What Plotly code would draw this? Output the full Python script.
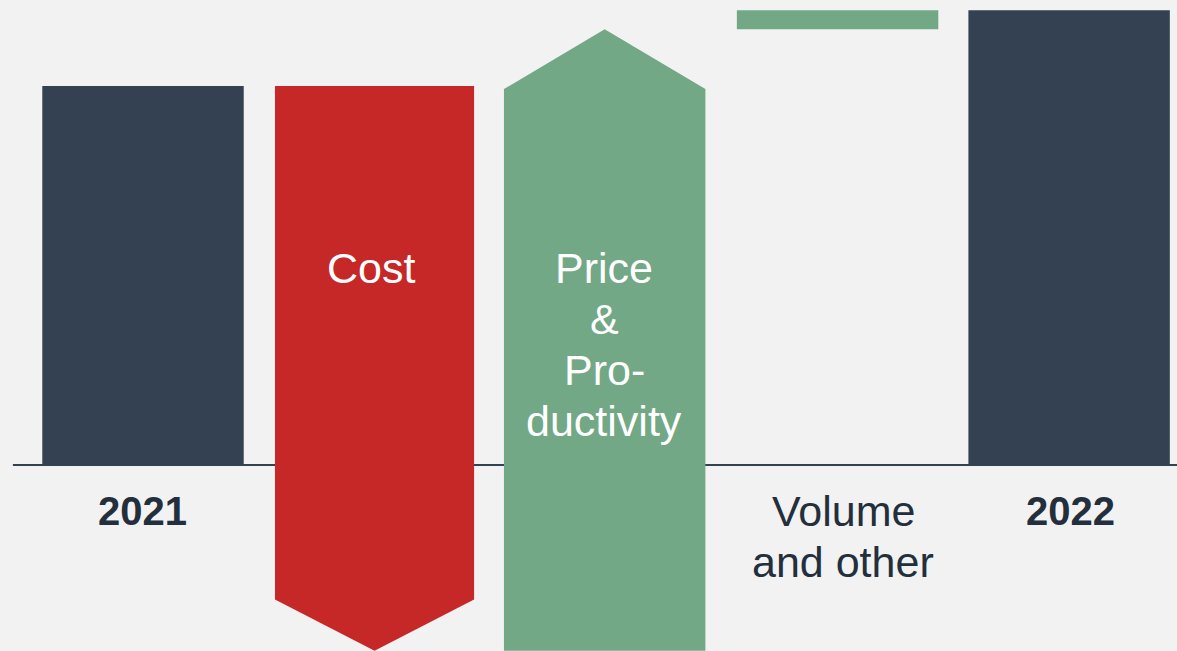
import plotly.graph_objects as go

# ---- data ----
categories = ["2021", "Cost", "Price & Productivity", "Volume and other", "2022"]
label_lines = [["2021"], ["Cost"], ["Price", "&", "Pro-", "ductivity"], ["Volume", "and other"], ["2022"]]
start_value = 100      # 2021
cost_delta = -149      # arrow from 100 down to -49
price_delta = 164      # arrow from -49 up to 115
volume_delta = 5       # 115 -> 120
end_value = 120        # 2022

# ---- style ----
BG = "#f2f2f2"
NAVY = "#334152"
RED = "#c62828"
GREEN = "#72a886"
TEXT = "#232f3c"
FONT = "Arial, Liberation Sans, sans-serif"
W = 0.87
W_COST = 0.86
HEAD_COST = 13.5
HEAD_PRICE = 15.8
LINE_STEP = 13.46      # line spacing in axis units

xs = list(range(len(categories)))
cost_top = start_value
cost_bot = start_value + cost_delta
price_bot = cost_bot
price_top = price_bot + price_delta
vol_base = price_top

fig = go.Figure()

# totals
fig.add_trace(go.Bar(x=[xs[0], xs[4]], y=[start_value, end_value], width=W,
                     marker=dict(color=NAVY, line=dict(width=0)), hoverinfo="skip"))
# volume (small floating bar)
fig.add_trace(go.Bar(x=[xs[3]], y=[volume_delta], base=[vol_base], width=W,
                     marker=dict(color=GREEN, line=dict(width=0)), hoverinfo="skip"))

# cost arrow (down)
cx = xs[1]
hw = W_COST / 2
fig.add_trace(go.Scatter(
    x=[cx - hw, cx + hw, cx + hw, cx, cx - hw, cx - hw],
    y=[cost_top, cost_top, cost_bot + HEAD_COST, cost_bot, cost_bot + HEAD_COST, cost_top],
    fill="toself", fillcolor=RED, mode="lines", line=dict(width=0, color=RED),
    hoverinfo="skip"))
# price arrow (up)
px = xs[2] - 0.006
hw = W / 2
fig.add_trace(go.Scatter(
    x=[px - hw, px + hw, px + hw, px, px - hw, px - hw],
    y=[price_bot, price_bot, price_top - HEAD_PRICE, price_top, price_top - HEAD_PRICE, price_bot],
    fill="toself", fillcolor=GREEN, mode="lines", line=dict(width=0, color=GREEN),
    hoverinfo="skip"))

# baseline
fig.add_shape(type="line", x0=-0.562, x1=4.6, y0=0, y1=0, layer="below",
              line=dict(color=NAVY, width=2))


def add_lines(i, y_first, color, size, bold=False, dx=0.0):
    for k, line in enumerate(label_lines[i]):
        txt = f"<b>{line}</b>" if bold else line
        fig.add_annotation(x=xs[i] + dx, y=y_first - k * LINE_STEP, text=txt, showarrow=False,
                           font=dict(family=FONT, size=size, color=color),
                           xanchor="center", yanchor="middle")


add_lines(0, -12.1, TEXT, 40, bold=True, dx=-0.004)
add_lines(4, -12.1, TEXT, 40, bold=True, dx=0.006)
add_lines(3, -12.14, TEXT, 43, dx=0.025)
add_lines(1, 52.0, "white", 43, dx=-0.015)
add_lines(2, 51.98, "white", 43, dx=-0.008)

fig.update_layout(
    width=1177, height=651,
    margin=dict(l=0, r=0, t=0, b=0),
    paper_bgcolor=BG, plot_bgcolor=BG,
    showlegend=False, barmode="overlay",
    xaxis=dict(range=[-0.6177, 4.466], visible=False, fixedrange=True),
    yaxis=dict(range=[-49.08, 122.69], visible=False, fixedrange=True),
)

fig.write_html("out.html", config={"displayModeBar": False},
               post_script="document.body.style.margin='0px';document.body.style.overflow='hidden';")
